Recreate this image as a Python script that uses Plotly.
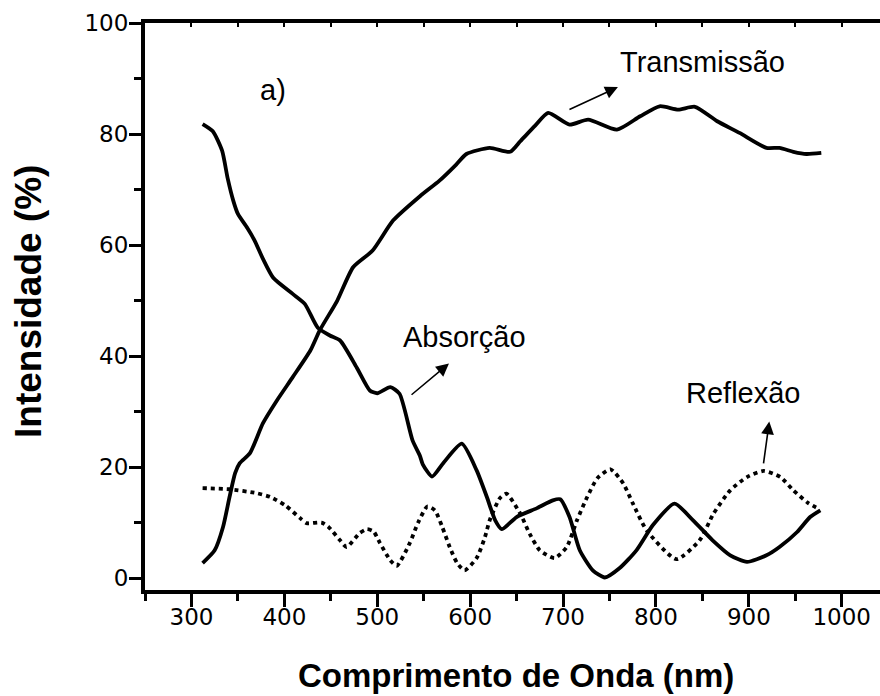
import plotly.graph_objects as go

# Absorção (solid)
abs_x = [312, 323, 333, 339, 345, 350, 360, 368, 377, 388, 409, 422, 436, 449, 460, 478, 492, 500, 514, 524, 538, 546, 549, 559, 571, 591, 607, 618, 627, 634, 650, 672, 689, 697, 707, 718, 732, 745, 761, 779, 797, 820, 840, 861, 880, 898, 919, 933, 952, 966, 977]
abs_y = [81.8, 80.5, 77, 72, 68, 65.6, 63.1, 60.8, 57.5, 54.1, 51.2, 49.4, 45.1, 43.7, 42.8, 37.9, 33.8, 33.3, 34.4, 33.2, 24.8, 22, 20.5, 18.3, 20.7, 24.2, 19.4, 14.6, 10.4, 8.8, 11, 12.6, 14, 14.2, 11, 5, 1.4, 0.1, 1.8, 5, 9.6, 13.4, 10.4, 6.8, 4.1, 2.9, 4.1, 5.6, 8.3, 11, 12.2]

# Transmissão (solid)
tra_x = [312, 325, 334, 341, 347, 352, 363, 377, 392, 409, 428, 438, 457, 474, 495, 517, 546, 567, 585, 596, 621, 643, 654, 670, 684, 707, 727, 758, 783, 804, 824, 842, 866, 890, 919, 933, 948, 962, 978]
tra_y = [2.7, 5, 9.2, 14.6, 18.9, 20.7, 22.5, 27.9, 32, 36.2, 41, 44.6, 50, 56, 59, 64.4, 68.8, 71.6, 74.5, 76.4, 77.5, 76.8, 78.7, 81.5, 83.8, 81.7, 82.6, 80.8, 83.2, 85, 84.4, 84.9, 82.3, 80.2, 77.5, 77.5, 76.8, 76.4, 76.6]

# Reflexão (dotted)
ref_x = [312, 341, 370, 385, 401, 417, 424, 440, 447, 460, 467, 481, 489, 496, 503, 514, 521, 535, 544, 554, 562, 570, 578, 586, 594, 607, 616, 621, 632, 639, 654, 664, 675, 691, 704, 715, 726, 737, 751, 765, 775, 790, 822, 847, 862, 880, 898, 916, 934, 948, 964, 975]
ref_y = [16.2, 16, 15.3, 14.6, 13.1, 10.8, 9.9, 10, 9.3, 6.8, 5.6, 8.1, 8.8, 8.4, 6.3, 3.2, 2.2, 6.3, 10, 12.9, 12.2, 9.2, 5.6, 2.7, 1.4, 3.6, 7.4, 10.4, 14.4, 15.2, 11.6, 8, 5, 3.6, 5.6, 10.4, 14.6, 18, 19.6, 17, 13.5, 8.6, 3.4, 6.8, 11.6, 15.8, 18.2, 19.3, 18.2, 15.8, 13.5, 12.5]

y_ticks = [0, 20, 40, 60, 80, 100]
x_ticks = [300, 400, 500, 600, 700, 800, 900, 1000]

fig = go.Figure()
for xs, ys, dash in [(abs_x, abs_y, "solid"), (tra_x, tra_y, "solid"), (ref_x, ref_y, "4px,4px")]:
    fig.add_trace(go.Scatter(x=xs, y=ys, mode="lines",
                             line=dict(color="black", width=3.8, dash=dash, shape="spline", smoothing=0.6),
                             showlegend=False, hoverinfo="skip"))

tickfont = dict(family="DejaVu Sans", size=23, color="black")
fig.update_layout(
    width=880, height=696,
    margin=dict(l=145, r=0, t=23, b=106, autoexpand=False),
    paper_bgcolor="white", plot_bgcolor="white",
    xaxis=dict(range=[250, 1041.2], showgrid=False, zeroline=False, automargin=False,
               showline=True, linecolor="black", linewidth=4,
               ticks="outside", ticklen=13, tickwidth=3, tickcolor="black",
               tickvals=x_ticks, ticktext=[str(v) for v in x_ticks],
               tickfont=tickfont, ticklabelstandoff=-10,
               minor=dict(dtick=50, tick0=250, ticks="outside", ticklen=7, tickwidth=3, tickcolor="black")),
    xaxis2=dict(range=[250, 1041.2], overlaying="x", side="top", showgrid=False, zeroline=False,
                automargin=False,
                showline=True, linecolor="black", linewidth=4,
                ticks="inside", ticklen=4, tickwidth=2, tickcolor="black",
                tick0=250, dtick=50, showticklabels=False),
    yaxis=dict(range=[-2.15, 100], showgrid=False, zeroline=False, automargin=False,
               showline=True, linecolor="black", linewidth=4,
               ticks="outside", ticklen=12, tickwidth=3, tickcolor="black",
               tickvals=y_ticks, ticktext=[str(v) for v in y_ticks],
               tickfont=tickfont, ticklabelstandoff=-4,
               minor=dict(dtick=10, tick0=0, ticks="outside", ticklen=7, tickwidth=3, tickcolor="black")),
)

# invisible trace so the top axis is drawn
fig.add_trace(go.Scatter(x=[250], y=[0], xaxis="x2", mode="markers", marker=dict(opacity=0),
                         showlegend=False, hoverinfo="skip"))

lab = dict(family="Liberation Sans, Arial", size=29, color="black")
texts = [("a)", 388, 88), ("Transmissão", 850.5, 93), ("Absorção", 594, 43.5), ("Reflexão", 894, 33.3)]
for t, x, y in texts:
    fig.add_annotation(x=x, y=y, xref="x", yref="y", text=t, showarrow=False, font=lab,
                       xanchor="center", yanchor="middle")

arrows = [(759.1, 88.45, 705.3, 84.3), (577.2, 38.65, 535.3, 32.8), (922, 28.2, 915.6, 20.4)]
for x, y, ax, ay in arrows:
    fig.add_annotation(x=x, y=y, ax=ax, ay=ay, xref="x", yref="y", axref="x", ayref="y",
                       text="", showarrow=True, arrowhead=2, arrowsize=1.6, arrowwidth=1.6,
                       arrowcolor="black", standoff=0, startstandoff=0)

fig.add_annotation(x=516, y=675, xref="paper", yref="paper", text="<b>Comprimento de Onda (nm)</b>",
                   showarrow=False, font=dict(family="Liberation Sans, Arial", size=33, color="black"),
                   xanchor="center", yanchor="middle")
fig.add_annotation(x=28, y=302, xref="paper", yref="paper", text="<b>Intensidade (%)</b>", textangle=-90,
                   showarrow=False, font=dict(family="Liberation Sans, Arial", size=37, color="black"),
                   xanchor="center", yanchor="middle")

# convert pixel positions of titles to paper coordinates
W, H = 880, 696
l, r, t, b = 145, 0, 23, 106
pw, ph = W - l - r, H - t - b
for ann in fig.layout.annotations[-2:]:
    ann.x = (ann.x - l) / pw
    ann.y = (H - b - ann.y) / ph

fig.write_html("out.html", config={"displayModeBar": False},
               post_script="document.body.style.margin='0px';document.body.style.overflow='hidden';")
